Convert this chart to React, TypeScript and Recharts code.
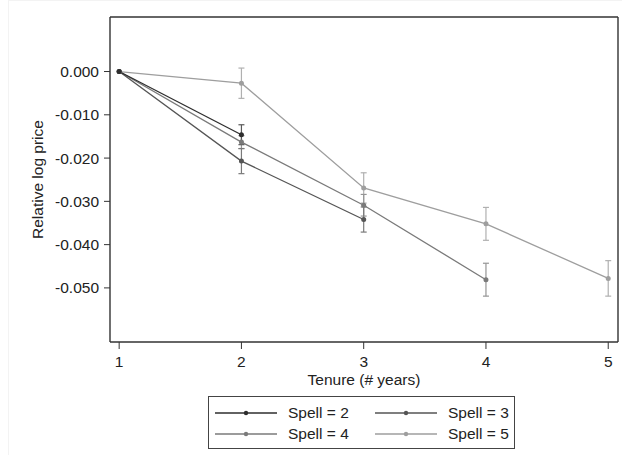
import React from 'react';
import { LineChart, Line, XAxis, YAxis, ErrorBar, ReferenceLine } from 'recharts';

const tenure = [1, 2, 3, 4, 5];
const xTicks = [1, 2, 3, 4, 5];
const yTicks = [0, -0.01, -0.02, -0.03, -0.04, -0.05];
const spellLabels = ['Spell = 2', 'Spell = 3', 'Spell = 4', 'Spell = 5'];

const spell2 = [0, -0.0146];
const spell3 = [0, -0.0207, -0.0342];
const spell4 = [0, -0.0163, -0.0309, -0.0481];
const spell5 = [0, -0.0027, -0.0269, -0.0352, -0.0478];

const spell2Err = [null, 0.0023];
const spell3Err = [null, 0.0029, 0.0029];
const spell4Err = [null, 0.0015, 0.0025, 0.0038];
const spell5Err = [null, 0.0035, 0.0035, 0.0038, 0.0041];

const lineColors = ['#2e2e2e', '#555555', '#7a7a7a', '#9e9e9e'];
const errColors = ['#5a5a5a', '#7a7a7a', '#959595', '#b0b0b0'];

const FONT = '"Liberation Sans", Arial, sans-serif';
const FS = 15.5;

const build = (vals: number[], errs: (number | null)[]) =>
  vals.map((v, i) => ({ tenure: tenure[i], value: v, err: errs[i] }));

const series = [
  { name: spellLabels[0], data: build(spell2, spell2Err), color: lineColors[0], err: errColors[0] },
  { name: spellLabels[1], data: build(spell3, spell3Err), color: lineColors[1], err: errColors[1] },
  { name: spellLabels[2], data: build(spell4, spell4Err), color: lineColors[2], err: errColors[2] },
  { name: spellLabels[3], data: build(spell5, spell5Err), color: lineColors[3], err: errColors[3] },
];

const X_DOMAIN: [number, number] = [0.925, 5.08];
const Y_DOMAIN: [number, number] = [-0.0625, 0.0126];
const AXIS = '#333333';

const YLabel = (props: any) => {
  const vb = props.viewBox || { x: 0, y: 0, width: 0, height: 0 };
  const cx = vb.x + 37;
  const cy = vb.y + vb.height / 2;
  return (
    <text x={cx} y={cy} transform={`rotate(-90, ${cx}, ${cy})`} textAnchor="middle"
      dominantBaseline="central" fontSize={FS} fill="#222" fontFamily={FONT}>
      Relative log price
    </text>
  );
};

const XLabel = (props: any) => {
  const vb = props.viewBox || { x: 0, y: 0, width: 0, height: 0 };
  return (
    <text x={vb.x + vb.width / 2} y={vb.y + 43} textAnchor="middle" fontSize={FS}
      fill="#222" fontFamily={FONT}>
      Tenure (# years)
    </text>
  );
};

const LegendBox = () => {
  const pos = [
    { left: 6, top: 8 },
    { left: 166, top: 8 },
    { left: 6, top: 28.6 },
    { left: 166, top: 28.6 },
  ];
  return (
    <div style={{ position: 'absolute', left: 208, top: 396, width: 305, height: 51,
      border: '1px solid #444', background: '#fff', fontFamily: FONT }}>
      {series.map((s, i) => (
        <div key={s.name} style={{ position: 'absolute', left: pos[i].left, top: pos[i].top,
          height: 16, display: 'flex', alignItems: 'center', whiteSpace: 'nowrap' }}>
          <svg width={62} height={16} style={{ display: 'block' }}>
            <line x1={0} y1={8} x2={62} y2={8} stroke={s.color} strokeWidth={1.3} />
            <circle cx={31} cy={8} r={2.2} fill={s.color} />
          </svg>
          <span style={{ marginLeft: 11, fontSize: FS, lineHeight: '16px', color: '#222' }}>{s.name}</span>
        </div>
      ))}
    </div>
  );
};

export default function App() {
  return (
    <div style={{ position: 'absolute', left: 0, top: 0, width: 622, height: 455, background: '#fff' }}>
      <div style={{ position: 'absolute', left: 8, top: 0, width: 614, height: 455,
        borderLeft: '1px solid #f3f3f3', borderTop: '1px solid #f3f3f3' }} />
      <LineChart width={622} height={455} margin={{ top: 17, right: 4, bottom: 73, left: 0 }}
        style={{ fontFamily: FONT }}>
        <XAxis type="number" dataKey="tenure" domain={X_DOMAIN} ticks={xTicks}
          allowDataOverflow interval={0} height={40} tickSize={7} tickMargin={7}
          axisLine={{ stroke: AXIS, strokeWidth: 1.4 }} tickLine={{ stroke: AXIS }}
          tick={{ fill: '#222', fontSize: FS, fontFamily: FONT }} label={XLabel} />
        <YAxis type="number" domain={Y_DOMAIN} ticks={yTicks} allowDataOverflow
          interval={0} width={110} tickSize={6} tickMargin={5}
          tickFormatter={(v: number) => v.toFixed(3)}
          axisLine={{ stroke: AXIS, strokeWidth: 1.4 }} tickLine={{ stroke: AXIS }}
          tick={{ fill: '#222', fontSize: FS, fontFamily: FONT }} label={YLabel} />
        <ReferenceLine y={Y_DOMAIN[1]} stroke={AXIS} strokeWidth={1.4} ifOverflow="visible" />
        <ReferenceLine x={X_DOMAIN[1]} stroke={AXIS} strokeWidth={1.4} ifOverflow="visible" />
        {[...series].reverse().map((s) => (
          <Line key={s.name} data={s.data} dataKey="value" name={s.name}
            stroke={s.color} strokeWidth={1.3} isAnimationActive={false}
            dot={{ r: 2.5, fill: s.color, stroke: s.color, strokeWidth: 0 }} activeDot={false}>
            <ErrorBar dataKey="err" direction="y" width={3} stroke={s.err} strokeWidth={1.2}
              isAnimationActive={false} />
          </Line>
        ))}
      </LineChart>
      <LegendBox />
    </div>
  );
}
